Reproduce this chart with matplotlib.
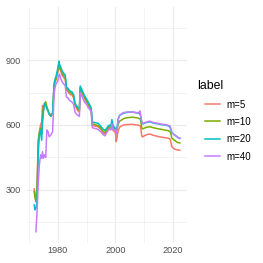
import numpy as np
import matplotlib
matplotlib.use("Agg")
import matplotlib.pyplot as plt
from matplotlib.ticker import FixedLocator

plt.rcParams['font.family'] = ['Liberation Sans', 'DejaVu Sans']

years = [
    1971.8, 1972.1, 1972.4, 1972.8, 1973.2, 1973.6, 1974.0, 1974.4, 1974.7, 1975.0,
    1975.4, 1975.8, 1976.2, 1976.6, 1977.0, 1977.6, 1978.2, 1978.7, 1979.0, 1979.4,
    1979.9, 1980.4, 1980.6,
    1981.0, 1981.5, 1982.0, 1982.6, 1983.0, 1983.5, 1984.0, 1984.5, 1985.0, 1985.5,
    1986.0, 1986.5, 1987.0, 1987.5, 1987.8, 1988.3, 1988.8, 1989.3, 1990.0, 1990.6,
    1991.2, 1991.6,
    1992.0, 1992.6, 1993.2, 1994.0, 1994.6, 1995.2, 1995.8, 1996.4, 1997.0, 1997.5,
    1998.0, 1998.5, 1998.8, 1999.2, 1999.6, 2000.0, 2000.3, 2000.6,
    2001.0, 2001.5, 2002.0, 2002.5, 2003.0, 2004.0, 2005.0, 2006.0, 2007.0, 2008.0,
    2008.6, 2008.8, 2009.2, 2009.6, 2010.0, 2010.5,
    2011.0, 2012.0, 2012.5, 2013.0, 2014.0, 2015.0, 2016.0, 2017.0, 2018.0, 2018.5,
    2019.0, 2019.4, 2019.6, 2020.0, 2020.5, 2021.0, 2021.5, 2022.0, 2022.4,
]

m5 = [
    305, 270, 262, 320, 530, 561, 600, 615, 690, 670, 690, 700, 680, 665, 650, 640, 650, 780, 795, 810, 840, 870, 860,
    850, 830, 820, 810, 760, 755, 745, 740, 738, 725, 688, 678, 665, 660, 765, 750, 735, 720, 705, 690, 676, 665,
    598, 596, 594, 592, 585, 575, 562, 558, 570, 580, 585, 580, 595, 575, 570, 565, 523, 545,
    575, 590, 595, 598, 600, 602, 603, 603, 601, 599, 596, 590, 548, 545, 550, 553,
    556, 558, 556, 553, 550, 546, 544, 542, 540, 538, 535, 515, 500, 495, 490, 487, 485, 484, 483,
]
m10 = [
    292, 262, 246, 300, 520, 569, 585, 560, 640, 680, 700, 707, 684, 669, 655, 646, 654, 785, 800, 815, 845, 880, 870,
    860, 840, 830, 820, 768, 762, 752, 748, 745, 732, 695, 685, 672, 668, 772, 758, 742, 728, 712, 698, 684, 672,
    605, 603, 600, 598, 590, 580, 570, 565, 578, 588, 592, 588, 615, 590, 582, 578, 560, 580,
    605, 618, 622, 626, 630, 633, 635, 636, 634, 632, 628, 620, 585, 582, 585, 588,
    590, 592, 590, 588, 585, 582, 580, 577, 575, 573, 570, 555, 540, 535, 530, 525, 520, 518, 517,
]
m20 = [
    231, 208, 215, 246, 470, 554, 577, 530, 610, 660, 700, 690, 675, 665, 650, 640, 655, 790, 810, 825, 855, 895, 880,
    870, 850, 840, 830, 775, 770, 760, 755, 752, 740, 700, 690, 680, 675, 780, 765, 750, 735, 720, 705, 690, 680,
    615, 612, 610, 608, 600, 590, 580, 575, 585, 595, 600, 595, 625, 598, 590, 585, 575, 590,
    630, 645, 648, 652, 655, 658, 660, 660, 657, 655, 650, 640, 610, 605, 608, 610,
    612, 615, 612, 610, 607, 605, 602, 600, 598, 595, 590, 575, 565, 560, 555, 550, 545, 540, 540,
]
m40 = [
    np.nan, np.nan, 107, 200, 330, 415, 462, 446, 477, 446, 462, 450, 577, 570, 546, 554, 569, 738, 770, 790, 800, 830, 835,
    815, 800, 790, 780, 730, 725, 715, 710, 705, 695, 660, 650, 645, 640, 750, 735, 720, 705, 695, 680, 670, 660,
    588, 585, 583, 580, 572, 565, 555, 550, 565, 575, 580, 578, 605, 580, 578, 575, 560, 580,
    625, 645, 650, 655, 658, 660, 660, 660, 658, 656, 665, 645, 612, 606, 610, 612,
    615, 618, 615, 612, 610, 607, 604, 602, 600, 598, 595, 580, 565, 560, 555, 550, 545, 540, 537,
]

labels = ["m=5", "m=10", "m=20", "m=40"]
series = [m5, m10, m20, m40]
colors = ["#F8766D", "#7CAE00", "#00BFC4", "#C77CFF"]

W, H = 263, 263
fig = plt.figure(figsize=(W / 100, H / 100), dpi=100)
ax = fig.add_axes([27 / W, 1 - 243 / H, (187 - 27) / W, (243 - 7) / H])

for lab, vals, col in zip(labels, series, colors):
    ax.plot(years, vals, color=col, lw=1.1, label=lab, solid_joinstyle='round')

ax.set_xlim(1969.3, 2024.9)
ax.set_ylim(55, 1145)
ax.xaxis.set_major_locator(FixedLocator([1980, 2000, 2020]))
ax.xaxis.set_minor_locator(FixedLocator([1970, 1990, 2010]))
ax.yaxis.set_major_locator(FixedLocator([300, 600, 900]))
ax.yaxis.set_minor_locator(FixedLocator([150, 450, 750, 1050]))
ax.grid(True, which='major', color='#EBEBEB', lw=0.8)
ax.grid(True, which='minor', color='#EBEBEB', lw=0.4)
ax.set_axisbelow(True)
for s in ax.spines.values():
    s.set_visible(False)
ax.tick_params(which='both', length=0)
ax.tick_params(axis='y', pad=4.5, labelsize=6.6, labelcolor='#4D4D4D')
ax.tick_params(axis='x', pad=2.5, labelsize=6.6, labelcolor='#4D4D4D')

fig.text(197 / W, 1 - 86 / H, 'label', fontsize=8.8, color='black',
         ha='left', va='center')
leg = fig.legend(loc='upper left', bbox_to_anchor=(205 / W, 1 - 99.5 / H),
                 frameon=False, fontsize=7, handlelength=1.55, handletextpad=0.7,
                 labelspacing=0.76, borderpad=0, borderaxespad=0)
for line in leg.get_lines():
    line.set_linewidth(1.1)

fig.savefig("out.png", dpi=100)
